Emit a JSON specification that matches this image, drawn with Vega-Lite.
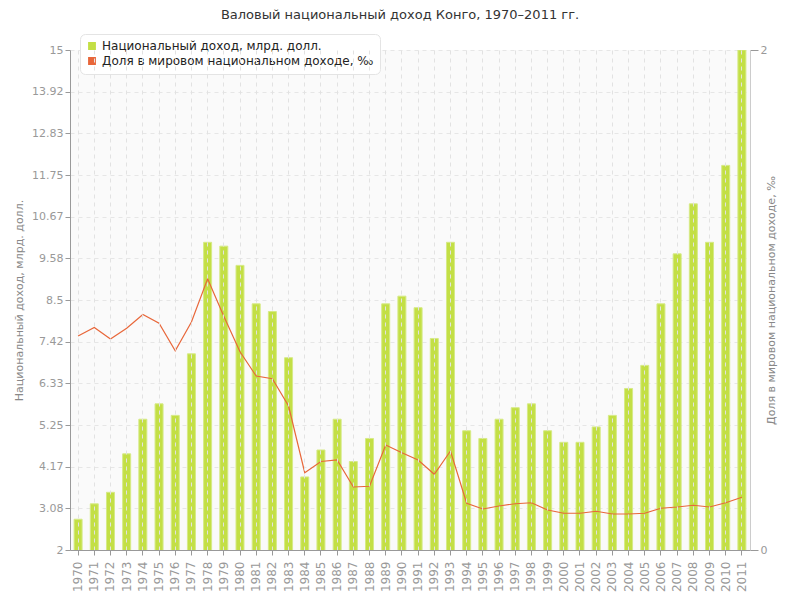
{
  "$schema": "https://vega.github.io/schema/vega-lite/v6.json",
  "autosize": "none",
  "width": 680,
  "height": 500,
  "padding": {"left": 70, "top": 50, "right": 50, "bottom": 50},
  "background": "white",
  "config": {
    "font": "DejaVu Sans",
    "view": {"fill": "#fafafa", "stroke": null}
  },
  "title": {
    "text": "Валовый национальный доход Конго, 1970–2011 гг.",
    "fontSize": 13,
    "fontWeight": "normal",
    "color": "#333",
    "offset": 12,
    "dx": -10
  },
  "data": {
    "values": [
      {"year": "1970", "gni": 2.8, "share": 0.856},
      {"year": "1971", "gni": 3.2, "share": 0.89},
      {"year": "1972", "gni": 3.5, "share": 0.844},
      {"year": "1973", "gni": 4.5, "share": 0.887},
      {"year": "1974", "gni": 5.4, "share": 0.942},
      {"year": "1975", "gni": 5.8, "share": 0.907},
      {"year": "1976", "gni": 5.5, "share": 0.797},
      {"year": "1977", "gni": 7.1, "share": 0.912},
      {"year": "1978", "gni": 10.0, "share": 1.085},
      {"year": "1979", "gni": 9.9, "share": 0.935},
      {"year": "1980", "gni": 9.4, "share": 0.793},
      {"year": "1981", "gni": 8.4, "share": 0.696},
      {"year": "1982", "gni": 8.2, "share": 0.685},
      {"year": "1983", "gni": 7.0, "share": 0.576},
      {"year": "1984", "gni": 3.9, "share": 0.309},
      {"year": "1985", "gni": 4.6, "share": 0.354},
      {"year": "1986", "gni": 5.4, "share": 0.36},
      {"year": "1987", "gni": 4.3, "share": 0.252},
      {"year": "1988", "gni": 4.9, "share": 0.255},
      {"year": "1989", "gni": 8.4, "share": 0.42},
      {"year": "1990", "gni": 8.6, "share": 0.389},
      {"year": "1991", "gni": 8.3, "share": 0.36},
      {"year": "1992", "gni": 7.5, "share": 0.303},
      {"year": "1993", "gni": 10.0, "share": 0.396},
      {"year": "1994", "gni": 5.1, "share": 0.187},
      {"year": "1995", "gni": 4.9, "share": 0.164},
      {"year": "1996", "gni": 5.4, "share": 0.176},
      {"year": "1997", "gni": 5.7, "share": 0.185},
      {"year": "1998", "gni": 5.8, "share": 0.189},
      {"year": "1999", "gni": 5.1, "share": 0.16},
      {"year": "2000", "gni": 4.8, "share": 0.147},
      {"year": "2001", "gni": 4.8, "share": 0.147},
      {"year": "2002", "gni": 5.2, "share": 0.155},
      {"year": "2003", "gni": 5.5, "share": 0.144},
      {"year": "2004", "gni": 6.2, "share": 0.144},
      {"year": "2005", "gni": 6.8, "share": 0.147},
      {"year": "2006", "gni": 8.4, "share": 0.167},
      {"year": "2007", "gni": 9.7, "share": 0.172},
      {"year": "2008", "gni": 11.0, "share": 0.179},
      {"year": "2009", "gni": 10.0, "share": 0.172},
      {"year": "2010", "gni": 12.0, "share": 0.189},
      {"year": "2011", "gni": 15.0, "share": 0.211}
    ]
  },
  "encoding": {
    "x": {
      "field": "year",
      "type": "ordinal",
      "scale": {"type": "band", "paddingInner": 0, "paddingOuter": 0},
      "axis": {
        "title": null,
        "labelAngle": 270,
        "labelAlign": "right",
        "labelBaseline": "middle",
        "labelColor": "#999",
        "labelFontSize": 12,
        "labelPadding": 6,
        "domainColor": "#999",
        "tickColor": "#999",
        "tickSize": 5,
        "grid": true,
        "gridColor": "#e2e2e2",
        "gridDash": [4, 4],
        "bandPosition": 0.5,
        "zindex": 1
      }
    }
  },
  "layer": [
    {
      "mark": {"type": "bar", "size": 8, "stroke": "#d6ea86", "strokeWidth": 1, "clip": true},
      "encoding": {
        "y": {
          "field": "gni",
          "type": "quantitative",
          "scale": {"domain": [2, 15], "zero": false, "nice": false},
          "axis": {
            "title": "Национальный доход, млрд. долл.",
            "titleColor": "#888",
            "titleFontWeight": "normal",
            "titleFontSize": 11,
            "titlePadding": 7,
            "values": [2, 3.08, 4.17, 5.25, 6.33, 7.42, 8.5, 9.58, 10.67, 11.75, 12.83, 13.92, 15],
            "format": ".2~f",
            "labelColor": "#999",
            "labelFontSize": 11,
            "domainColor": "#999",
            "tickColor": "#999",
            "grid": true,
            "gridColor": "#e6e6e6",
            "gridDash": [4, 4]
          }
        },
        "color": {
          "datum": "Национальный доход, млрд. долл.",
          "type": "nominal",
          "scale": {
            "domain": ["Национальный доход, млрд. долл.", "Доля в мировом национальном доходе, ‰"],
            "range": ["#c3df45", "#e8673a"]
          },
          "legend": {
            "title": null,
            "orient": "none",
            "legendX": 10,
            "legendY": -16,
            "symbolType": "square",
            "symbolSize": 40,
            "labelFontSize": 12,
            "labelColor": "#222",
            "labelFont": "DejaVu Sans",
            "labelLimit": 500,
            "fillColor": "white",
            "strokeColor": "#e4e4e4",
            "cornerRadius": 5,
            "padding": 6,
            "rowPadding": 1
          }
        }
      }
    },
    {
      "mark": {"type": "line", "strokeWidth": 1.2, "interpolate": "linear"},
      "encoding": {
        "y": {
          "field": "share",
          "type": "quantitative",
          "scale": {"domain": [0, 2], "nice": false},
          "axis": {
            "orient": "right",
            "title": "Доля в мировом национальном доходе, ‰",
            "titleAngle": 270,
            "titleColor": "#888",
            "titleFontWeight": "normal",
            "titleFontSize": 11,
            "titlePadding": 10,
            "values": [0, 1, 2],
            "format": "d",
            "labelColor": "#999",
            "labelFontSize": 11,
            "domainColor": "#ccc",
            "tickColor": "#999",
            "tickSize": 8,
            "grid": false
          }
        },
        "color": {"datum": "Доля в мировом национальном доходе, ‰", "type": "nominal"}
      }
    }
  ],
  "resolve": {"scale": {"y": "independent"}}
}
